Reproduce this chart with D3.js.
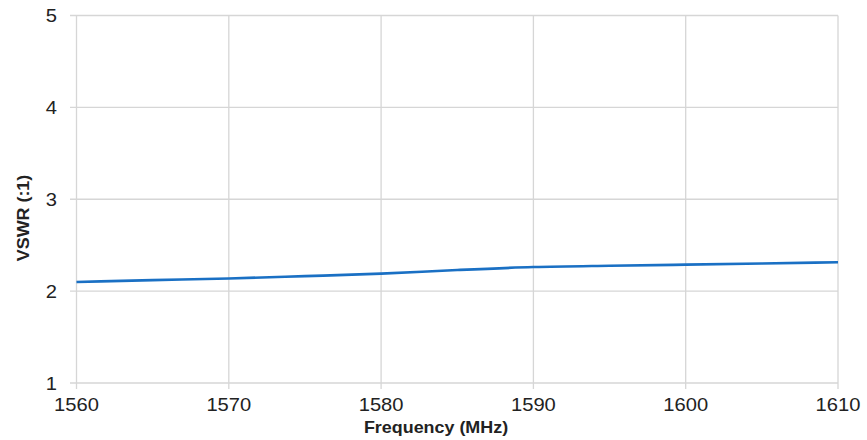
<!DOCTYPE html>
<html><head><meta charset="utf-8">
<script src="https://cdn.jsdelivr.net/npm/d3@7"></script>
<style>body{margin:0;background:#fff}svg{display:block}text{font-family:"Liberation Sans",Arial,sans-serif;fill:#222}</style>
</head><body><svg id="c" width="867" height="440"></svg>
<script>
const freqs = [1560,1565,1570,1575,1580,1585,1590,1595,1600,1605,1610];
const vswr  = [2.10,2.12,2.138,2.163,2.19,2.23,2.262,2.277,2.288,2.30,2.315];
const xTicks = [1560,1570,1580,1590,1600,1610];
const yTicks = [1,2,3,4,5];
const xTitle = "Frequency (MHz)";
const yTitle = "VSWR (:1)";

const svg = d3.select("#c");
const x = d3.scaleLinear().domain([1560,1610]).range([76.5,838]);
const y = d3.scaleLinear().domain([1,5]).range([383,15.5]);
const SX = 1.12;
const grid = "#d6d6d6";

// horizontal grid
svg.append("g").selectAll("line").data(yTicks).join("line")
  .attr("x1",70).attr("x2",838).attr("y1",d=>y(d)).attr("y2",d=>y(d))
  .attr("stroke",grid).attr("stroke-width",1.3);
// vertical grid
svg.append("g").selectAll("line").data(xTicks).join("line")
  .attr("x1",d=>x(d)).attr("x2",d=>x(d)).attr("y1",y(5)).attr("y2",389)
  .attr("stroke",grid).attr("stroke-width",1.3);

// y tick labels
svg.append("g").selectAll("text").data(yTicks).join("text")
  .attr("transform",d=>`translate(57,${y(d)+6.5}) scale(${SX},1)`)
  .attr("text-anchor","end").attr("font-size",18).text(d=>d);
// x tick labels
svg.append("g").selectAll("text").data(xTicks).join("text")
  .attr("transform",d=>`translate(${x(d)},411) scale(${SX},1)`)
  .attr("text-anchor","middle").attr("font-size",18).text(d=>d);

// titles
svg.append("text").attr("transform",`translate(436,433) scale(${SX},1)`)
  .attr("text-anchor","middle").attr("font-size",16).attr("font-weight","bold").text(xTitle);
svg.append("text").attr("transform",`translate(29,218) scale(1,${SX}) rotate(-90)`)
  .attr("text-anchor","middle").attr("font-size",16).attr("font-weight","bold").text(yTitle);

// line
const data = freqs.map((f,i)=>({f,v:vswr[i]}));
svg.append("path").datum(data)
  .attr("fill","none").attr("stroke","#1a70c4").attr("stroke-width",2.6)
  .attr("d",d3.line().x(d=>x(d.f)).y(d=>y(d.v)).curve(d3.curveMonotoneX));
</script></body></html>
